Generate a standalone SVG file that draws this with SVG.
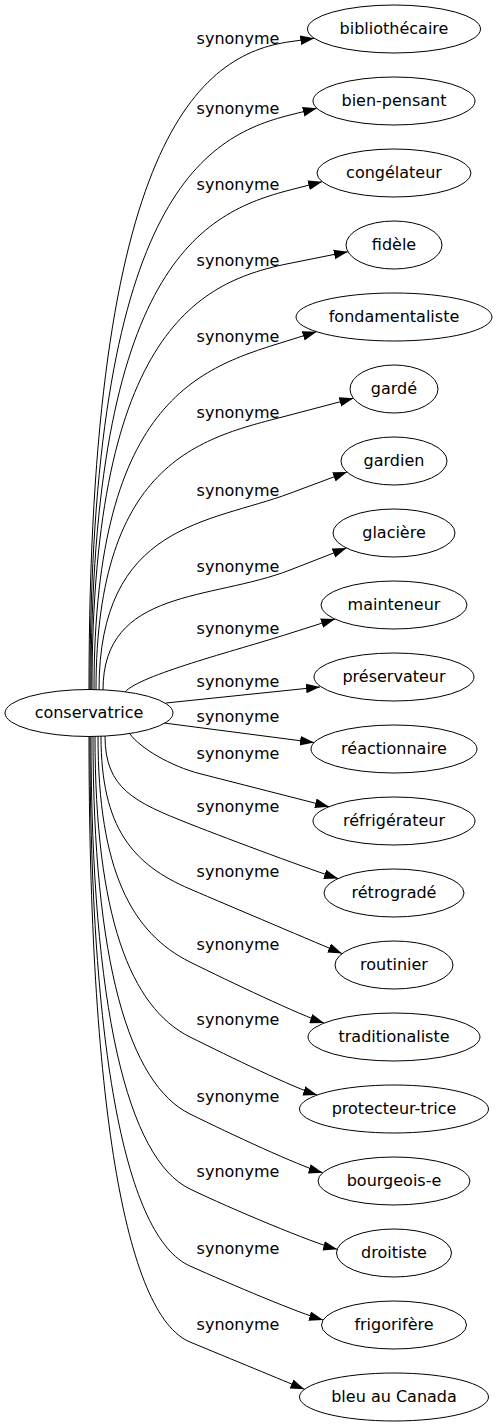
<svg xmlns="http://www.w3.org/2000/svg" width="496" height="1427" viewBox="0 0 496 1427">
<style>
ellipse{fill:#fff;stroke:#000;stroke-width:1}
text{font-family:"DejaVu Sans",sans-serif;font-size:16px;fill:#000;text-anchor:middle}
#edges path{fill:none;stroke:#000;stroke-width:1;marker-end:url(#arr)}
</style>
<defs>
<marker id="arr" markerUnits="userSpaceOnUse" markerWidth="14" markerHeight="10" viewBox="0 0 13 9" refX="13" refY="4.5" orient="auto"><path d="M0,0L13,4.5L0,9z" fill="#000"/></marker>
</defs>
<g id="edges">
<path d="M89,690 C89,138.9 200.4,54.3 290,41.7 L314.3,38.3"/>
<path d="M90,690 C90,201.3 202.7,136.9 290,115 L316.8,108.3"/>
<path d="M91,690 C91,265 203.3,212.4 290,190 L322.2,181.7"/>
<path d="M92,690 C92,327.3 202.6,280.8 290,263.3 L347.9,251.7"/>
<path d="M94,690 C94,392.5 205.9,366.4 290,340 L316.5,331.7"/>
<path d="M96,690 C96,456.3 205.6,437.2 290,415 L353.4,398.3"/>
<path d="M99,690 C99,522.8 209.4,523.4 290,493.3 L347,472"/>
<path d="M103,690 C103,588 211.5,600.6 290,570 L346.5,548"/>
<path d="M125,692 C140,675 232.8,651.5 290,633.3 L335,619"/>
<path d="M166,703 L320,687"/>
<path d="M164,723 L314,742.5"/>
<path d="M130,734 C140,748 171,766.3 200,773.7 L329,806.7"/>
<path d="M105,736 C105,788.8 134.6,802.2 190,824 C231.9,840.5 314.2,871 338,878.5"/>
<path d="M101,736 C101,827.8 132.7,864.5 190,889 C231.4,906.7 318.9,943.8 342,953.5"/>
<path d="M98,736 C98,871.6 132.4,933.3 190,962 C230.3,982 300.3,1015.1 324,1023"/>
<path d="M95,736 C95,916.6 130.5,1007.4 190,1037 C230.3,1057 293.3,1087.7 317.2,1095"/>
<path d="M93,736 C93,962.8 129.1,1084 190,1114 C230.4,1133.9 298.7,1165.8 322.7,1172.7"/>
<path d="M91,736 C91,1007.8 127.6,1158.9 190,1189 C230.5,1208.6 313,1243.1 337.2,1249.3"/>
<path d="M90,736 C90,1054 126.1,1237.4 190,1266 C231.1,1284.4 299,1313.2 323.1,1320"/>
<path d="M89,736 C89,1099.6 124.7,1315 190,1342 C231.6,1359.2 281.4,1379.8 304.5,1389.3"/>
</g>
<g id="edge-labels">
<text x="238" y="44">synonyme</text>
<text x="238" y="114">synonyme</text>
<text x="238" y="190">synonyme</text>
<text x="238" y="266">synonyme</text>
<text x="238" y="342">synonyme</text>
<text x="238" y="418">synonyme</text>
<text x="238" y="496">synonyme</text>
<text x="238" y="572">synonyme</text>
<text x="238" y="634">synonyme</text>
<text x="238" y="687">synonyme</text>
<text x="238" y="722">synonyme</text>
<text x="238" y="759">synonyme</text>
<text x="238" y="812">synonyme</text>
<text x="238" y="877">synonyme</text>
<text x="238" y="950">synonyme</text>
<text x="238" y="1025">synonyme</text>
<text x="238" y="1102">synonyme</text>
<text x="238" y="1177">synonyme</text>
<text x="238" y="1254">synonyme</text>
<text x="238" y="1330">synonyme</text>
</g>
<g id="conservatrice"><ellipse cx="89" cy="713" rx="84" ry="23.5"/><text x="89" y="718">conservatrice</text></g>
<g id="bibliothecaire"><ellipse cx="394" cy="29" rx="86.5" ry="24"/><text x="394" y="34">bibliothécaire</text></g>
<g id="bien-pensant"><ellipse cx="394" cy="101" rx="81" ry="24"/><text x="394" y="106">bien-pensant</text></g>
<g id="congelateur"><ellipse cx="394" cy="173" rx="77" ry="24"/><text x="394" y="178">congélateur</text></g>
<g id="fidele"><ellipse cx="394" cy="245" rx="48" ry="24"/><text x="394" y="250">fidèle</text></g>
<g id="fondamentaliste"><ellipse cx="394" cy="317" rx="98" ry="24"/><text x="394" y="322">fondamentaliste</text></g>
<g id="garde"><ellipse cx="394" cy="389" rx="44" ry="24"/><text x="394" y="394">gardé</text></g>
<g id="gardien"><ellipse cx="394" cy="461" rx="53" ry="24"/><text x="394" y="466">gardien</text></g>
<g id="glaciere"><ellipse cx="394" cy="533" rx="61" ry="24"/><text x="394" y="538">glacière</text></g>
<g id="mainteneur"><ellipse cx="394" cy="605" rx="73" ry="24"/><text x="394" y="610">mainteneur</text></g>
<g id="preservateur"><ellipse cx="394" cy="677" rx="80" ry="24"/><text x="394" y="682">préservateur</text></g>
<g id="reactionnaire"><ellipse cx="394" cy="749" rx="83" ry="24"/><text x="394" y="754">réactionnaire</text></g>
<g id="refrigerateur"><ellipse cx="394" cy="821" rx="81" ry="24"/><text x="394" y="826">réfrigérateur</text></g>
<g id="retrograde"><ellipse cx="394" cy="893" rx="70" ry="24"/><text x="394" y="898">rétrogradé</text></g>
<g id="routinier"><ellipse cx="394" cy="965" rx="59" ry="24"/><text x="394" y="970">routinier</text></g>
<g id="traditionaliste"><ellipse cx="394" cy="1037" rx="86" ry="24"/><text x="394" y="1042">traditionaliste</text></g>
<g id="protecteur-trice"><ellipse cx="394" cy="1109" rx="94.5" ry="24"/><text x="394" y="1114">protecteur-trice</text></g>
<g id="bourgeois-e"><ellipse cx="394" cy="1181" rx="76" ry="24"/><text x="394" y="1186">bourgeois-e</text></g>
<g id="droitiste"><ellipse cx="394" cy="1253" rx="57.5" ry="24"/><text x="394" y="1258">droitiste</text></g>
<g id="frigorifere"><ellipse cx="394" cy="1325" rx="72.5" ry="24"/><text x="394" y="1330">frigorifère</text></g>
<g id="bleu-au-canada"><ellipse cx="394" cy="1397" rx="94.5" ry="24"/><text x="394" y="1402">bleu au Canada</text></g>
</svg>
